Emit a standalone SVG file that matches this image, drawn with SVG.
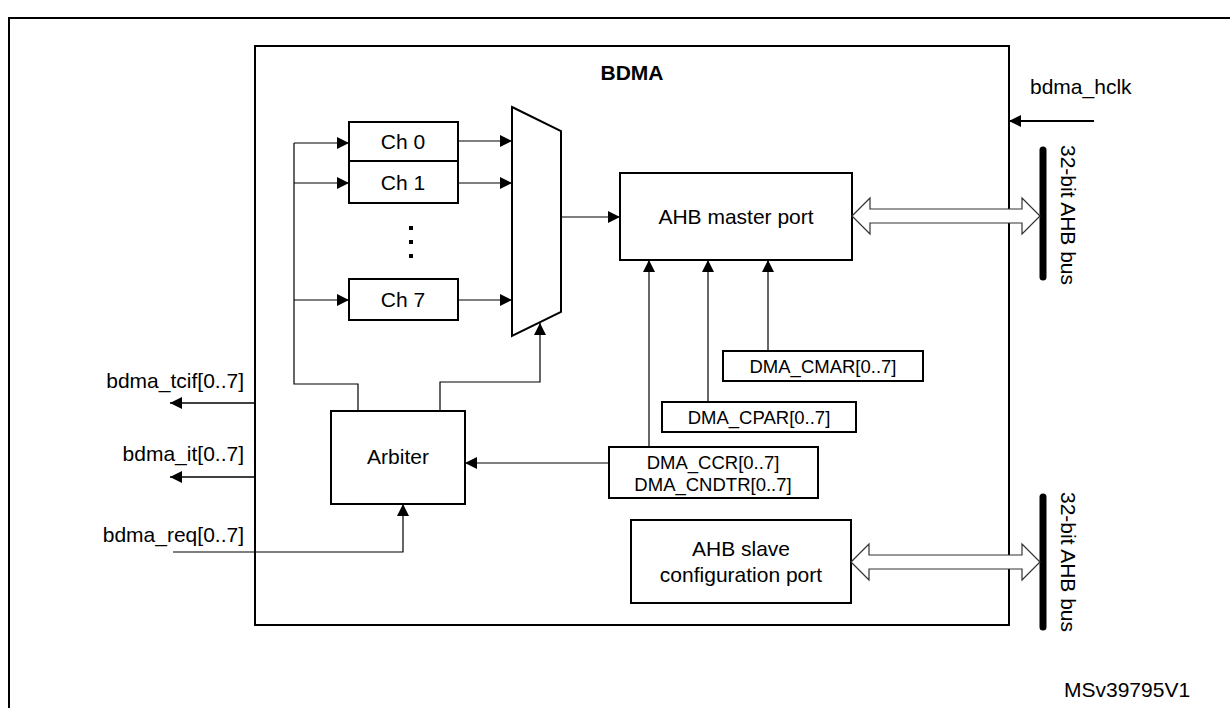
<svg xmlns="http://www.w3.org/2000/svg" width="1230" height="708" viewBox="0 0 1230 708">
<style>
text{font-family:"Liberation Sans",Arial,sans-serif;font-size:21px;fill:#000}
.b{fill:#fff;stroke:#000;stroke-width:2}
.l{fill:none;stroke:#000;stroke-width:1.2}
.m{text-anchor:middle}
.e{text-anchor:end}
.s{font-size:18.5px}
.da{fill:#fff;stroke:#333;stroke-width:1.2}
</style>
<defs><marker id="a" viewBox="0 0 10 10" refX="10" refY="5" markerWidth="12" markerHeight="12" markerUnits="userSpaceOnUse" orient="auto"><path d="M0,0L10,5L0,10z" fill="#000"/></marker></defs>
<rect x="9" y="18" width="1240" height="700" fill="none" stroke="#000" stroke-width="2"/>
<g id="bdma"><rect class="b" x="255" y="46" width="754" height="579"/><text class="m" x="632" y="80" font-weight="bold" font-size="26">BDMA</text></g>
<g id="ch0"><rect class="b" x="349" y="122" width="109" height="39"/><text class="m" x="403" y="149">Ch 0</text></g>
<g id="ch1"><rect class="b" x="349" y="161" width="109" height="42"/><text class="m" x="403" y="190">Ch 1</text></g>
<g id="dots"><rect x="409" y="226" width="4" height="4"/><rect x="409" y="240" width="4" height="4"/><rect x="409" y="254" width="4" height="4"/></g>
<g id="ch7"><rect class="b" x="349" y="279" width="109" height="41"/><text class="m" x="403" y="307">Ch 7</text></g>
<g id="mux"><polygon class="b" points="512,107 561,131 561,312 512,336"/></g>
<g id="arbiter"><rect class="b" x="331" y="411" width="134" height="93"/><text class="m" x="398" y="464">Arbiter</text></g>
<g id="master"><rect class="b" x="620" y="173" width="232" height="87"/><text class="m" x="736" y="224">AHB master port</text></g>
<g id="cmar"><rect class="b" x="723" y="351" width="200" height="30" stroke-width="1.2"/><text class="m s" x="823" y="373">DMA_CMAR[0..7]</text></g>
<g id="cpar"><rect class="b" x="662" y="402" width="194" height="30" stroke-width="1.2"/><text class="m s" x="759" y="424">DMA_CPAR[0..7]</text></g>
<g id="ccr"><rect class="b" x="609" y="447" width="209" height="51" stroke-width="1.2"/><text class="m s" x="713" y="469">DMA_CCR[0..7]</text><text class="m s" x="713" y="491">DMA_CNDTR[0..7]</text></g>
<g id="slave"><rect class="b" x="631" y="520" width="220" height="83"/><text class="m" x="741" y="556">AHB slave</text><text class="m" x="741" y="582">configuration port</text></g>
<g id="bus1"><line x1="1043" y1="150" x2="1043" y2="277" stroke="#000" stroke-width="7" stroke-linecap="round"/><text class="m" transform="translate(1061,215) rotate(90)">32-bit AHB bus</text></g>
<g id="bus2"><line x1="1043" y1="497" x2="1043" y2="627" stroke="#000" stroke-width="7" stroke-linecap="round"/><text class="m" transform="translate(1061,562) rotate(90)">32-bit AHB bus</text></g>
<g id="connectors">
<path class="l" d="M358,411V384H294V143"/>
<path class="l" d="M294,143H349" marker-end="url(#a)"/>
<path class="l" d="M294,183H349" marker-end="url(#a)"/>
<path class="l" d="M294,300H349" marker-end="url(#a)"/>
<path class="l" d="M458,141H512" marker-end="url(#a)"/>
<path class="l" d="M458,183H512" marker-end="url(#a)"/>
<path class="l" d="M458,300H512" marker-end="url(#a)"/>
<path class="l" d="M440,411V382H540V323" marker-end="url(#a)"/>
<path class="l" d="M561,217H620" marker-end="url(#a)"/>
<path class="l" d="M649,447V260" marker-end="url(#a)"/>
<path class="l" d="M708,402V260" marker-end="url(#a)"/>
<path class="l" d="M768,351V260" marker-end="url(#a)"/>
<path class="l" d="M609,463H465" marker-end="url(#a)"/>
<path class="da" d="M852,216L870,198V209H1022V198L1040,216L1022,234V223H870V234Z"/>
<path class="da" d="M851,562L869,544V555H1022V544L1040,562L1022,580V569H869V580Z"/>
<path d="M1094,121H1009" stroke="#000" stroke-width="2" marker-end="url(#a)"/>
<path d="M255,403H170" stroke="#000" stroke-width="1.5" marker-end="url(#a)"/>
<path d="M255,477H170" stroke="#000" stroke-width="1.5" marker-end="url(#a)"/>
<path class="l" d="M173,552H403V504" marker-end="url(#a)"/>
</g>
<text x="1030" y="94">bdma_hclk</text>
<text class="e" x="244" y="388">bdma_tcif[0..7]</text>
<text class="e" x="244" y="461">bdma_it[0..7]</text>
<text class="e" x="244" y="542">bdma_req[0..7]</text>
<text x="1064" y="697" font-size="15">MSv39795V1</text>
</svg>
